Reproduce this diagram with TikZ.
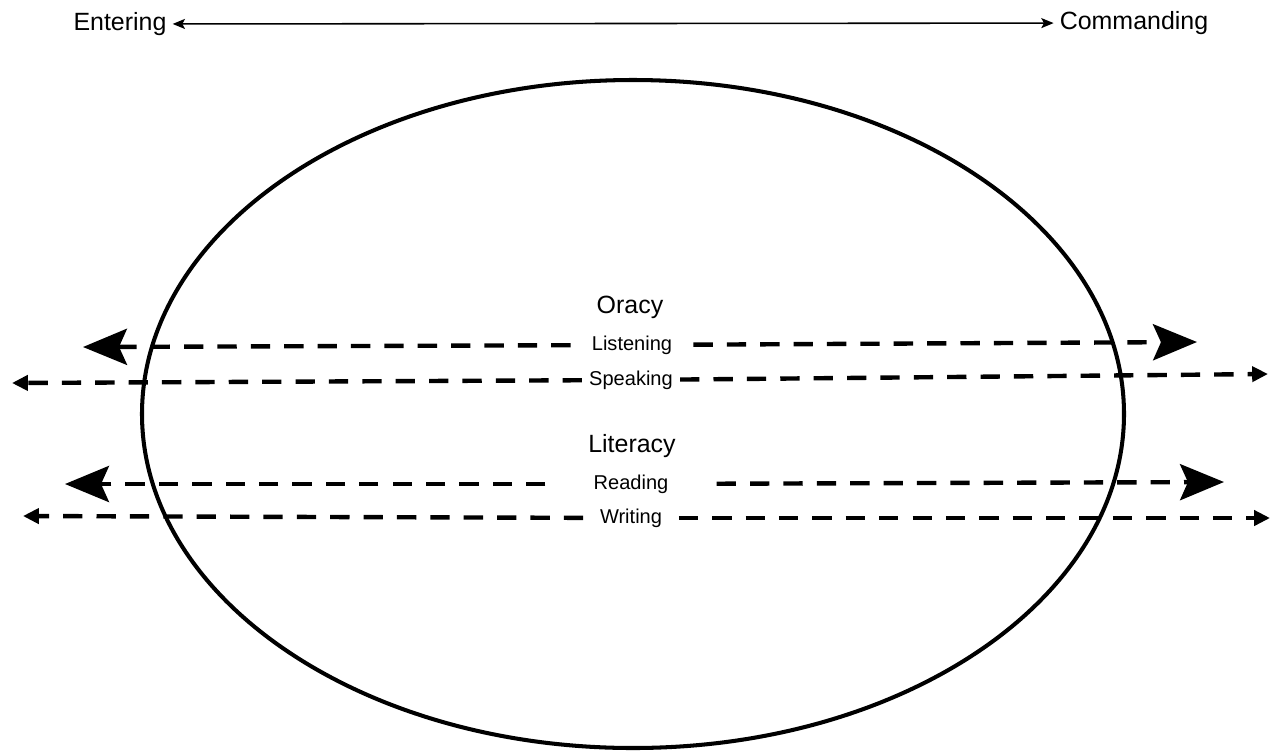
\documentclass[tikz,border=0pt]{standalone}
\usepackage{fontspec}
\setmainfont{Liberation Sans}
\usetikzlibrary{arrows.meta}
\newcommand{\bigsize}{\fontsize{14.2}{17}\selectfont}
\newcommand{\smallsize}{\fontsize{11.4}{14}\selectfont}
\tikzset{
  dashline/.style={line width=2.5pt,dash pattern=on 11pt off 8pt},
  bigtip/.style={dashline,-{Stealth[length=25pt,width=20.5pt,inset=4.5pt]}},
  smalltip/.style={dashline,-{Triangle[length=9pt,width=8.5pt]}},
  heading/.style={font=\bigsize,inner sep=0pt},
  skill/.style={font=\smallsize,inner ysep=0pt}
}
\begin{document}
\begin{tikzpicture}[x=0.02cm,y=-0.02cm]
    \useasboundingbox (0,0) rectangle (1272,752);
    % the whole field
    \draw[line width=2.3pt] (633,414) ellipse [x radius=491, y radius=334];
    % top scale
    \node[font=\bigsize] (enter) at (120,24) {Entering};
    \node[font=\bigsize] (command) at (1134,23) {Commanding};
    \path (enter) edge[line width=0.9pt,{Stealth[length=7pt,width=5.7pt,inset=1.5pt]}-{Stealth[length=7pt,width=5.7pt,inset=1.5pt]}] (command);
    % oracy
    \node[heading] (oracy) at (630,307) {Oracy};
    \node[skill,inner xsep=0.42cm] (listen) at (632,345) {Listening};
    \node[skill,inner xsep=0.14cm] (speak) at (631,380) {Speaking};
    \coordinate (listenL) at (83,347);
    \coordinate (listenR) at (1197,342);
    \coordinate (speakL) at (12,383);
    \coordinate (speakR) at (1268,374);
    % literacy
    \node[heading] (literacy) at (632,446) {Literacy};
    \node[skill,inner xsep=0.96cm] (read) at (631,484) {Reading};
    \node[skill,inner xsep=0.33cm] (write) at (631,518) {Writing};
    \coordinate (readL) at (65,484);
    \coordinate (readR) at (1224,482);
    \coordinate (writeL) at (23,516);
    \coordinate (writeR) at (1270,518);
    \path
    (listen) edge[bigtip] (listenL)
    (listen) edge[bigtip] (listenR)
    (speak) edge[smalltip] (speakL)
    (speak) edge[smalltip] (speakR)
    (read) edge[bigtip] (readL)
    (read) edge[bigtip] (readR)
    (write) edge[smalltip] (writeL)
    (write) edge[smalltip] (writeR);
\end{tikzpicture}
\end{document}
